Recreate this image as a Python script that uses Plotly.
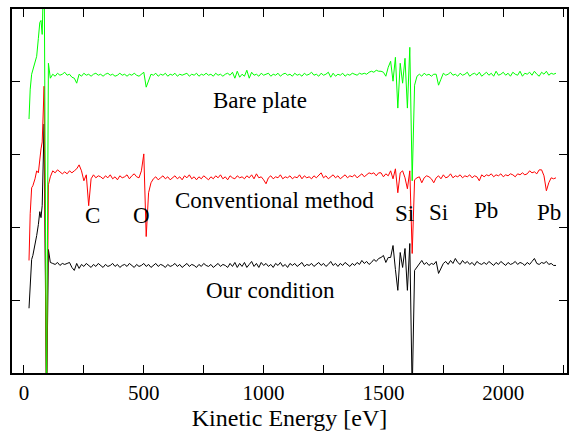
import plotly.graph_objects as go

# Kinetic energy sampling (eV): detailed low-energy points, then 10 eV steps
energy_low = [21, 26, 32, 37, 46, 53, 60, 66, 71, 76, 84, 94, 102, 110]
energy_main = list(range(120, 2230, 10))
energy = energy_low + energy_main

# dN/dE signals (arb. units, offset per sample)
bare_low = [255, 285, 300, 305, 311, 318, 336, 352, 354, 340, 420, -40, 311, 296]
bare_main = (
    [300, 298, 301, 299, 300, 302, 299, 300, 297, 296]
    + [291, 300, 298, 301, 299, 300, 298, 300, 301, 299]
    + [300, 298, 300, 301, 299, 300, 298, 299, 301, 299]
    + [300, 298, 300, 299, 301, 299, 298, 300, 302, 287]
    + [294, 300, 299, 301, 298, 300, 299, 301, 298, 300]
    + [299, 301, 298, 300, 299, 300, 301, 298, 300, 299]
    + [301, 298, 300, 299, 301, 299, 300, 298, 301, 299]
    + [300, 298, 300, 301, 299, 302, 296, 303, 297, 300]
    + [298, 304, 296, 302, 299, 300, 298, 301, 299, 300]
    + [301, 298, 300, 299, 301, 298, 300, 301, 299, 300]
    + [298, 301, 299, 300, 298, 301, 299, 300, 302, 299]
    + [300, 298, 301, 299, 300, 302, 297, 301, 298, 300]
    + [299, 301, 298, 300, 299, 301, 300, 299, 301, 300]
    + [301, 300, 302, 303, 302, 304, 303, 303, 302, 298]
    + [307, 313, 293, 317, 266, 311, 291, 316, 266, 327]
    + [193, 289, 298, 300, 298, 301, 299, 300, 298, 300]
    + [300, 289, 295, 301, 299, 300, 302, 299, 300, 298]
    + [301, 299, 300, 302, 298, 300, 301, 299, 302, 298]
    + [300, 302, 299, 301, 298, 303, 299, 300, 302, 299]
    + [301, 298, 302, 300, 299, 303, 298, 301, 300, 302]
    + [299, 303, 300, 298, 302, 300, 303, 299, 301, 300]
    + [301]
)

conv_low = [113, 160, 186, 188, 195, 203, 201, 219, 225, 232, 288, -40, 189, 197]
conv_main = (
    [203, 201, 204, 202, 200, 202, 200, 203, 201, 203]
    + [205, 209, 203, 193, 199, 168, 195, 199, 196, 198]
    + [197, 195, 198, 196, 199, 195, 197, 194, 198, 196]
    + [197, 199, 195, 198, 200, 197, 196, 203, 220, 137]
    + [181, 191, 195, 197, 194, 196, 198, 195, 197, 194]
    + [196, 198, 195, 197, 194, 198, 196, 199, 195, 197]
    + [194, 197, 195, 198, 196, 194, 197, 195, 198, 196]
    + [199, 195, 197, 194, 198, 196, 195, 198, 196, 197]
    + [195, 198, 196, 199, 195, 200, 196, 197, 194, 190]
    + [196, 198, 195, 197, 196, 199, 195, 197, 196, 198]
    + [195, 197, 196, 199, 195, 198, 196, 197, 195, 198]
    + [196, 199, 201, 196, 198, 195, 197, 199, 196, 198]
    + [195, 197, 199, 196, 198, 197, 199, 196, 198, 200]
    + [197, 199, 201, 200, 201, 198, 201, 201, 197, 200]
    + [198, 203, 195, 205, 181, 201, 203, 196, 185, 203]
    + [120, 194, 196, 197, 191, 196, 198, 197, 195, 191]
    + [196, 198, 195, 199, 196, 197, 200, 196, 198, 197]
    + [199, 196, 198, 197, 199, 196, 198, 197, 193, 199]
    + [197, 199, 198, 200, 197, 199, 198, 200, 197, 199]
    + [198, 200, 199, 197, 200, 199, 201, 199, 200, 203]
    + [201, 202, 200, 204, 204, 198, 183, 191, 196, 195]
    + [196]
)

ours_low = [65, 95, 114, 118, 128, 138, 149, 162, 156, 168, 250, -40, 124, 111]
ours_main = (
    [110, 109, 111, 108, 110, 109, 110, 111, 106, 103]
    + [110, 105, 109, 107, 110, 108, 106, 109, 107, 110]
    + [108, 106, 109, 107, 108, 110, 107, 109, 106, 108]
    + [109, 107, 110, 108, 106, 109, 107, 108, 110, 107]
    + [109, 106, 108, 110, 107, 109, 108, 106, 109, 107]
    + [108, 110, 107, 109, 106, 108, 110, 107, 109, 108]
    + [106, 109, 107, 110, 108, 107, 109, 106, 108, 110]
    + [107, 109, 108, 106, 110, 107, 111, 106, 110, 107]
    + [111, 106, 109, 112, 107, 110, 106, 111, 108, 110]
    + [107, 109, 106, 110, 108, 111, 107, 109, 106, 110]
    + [108, 110, 107, 109, 111, 107, 109, 108, 110, 107]
    + [109, 111, 108, 110, 107, 109, 112, 108, 110, 107]
    + [110, 108, 111, 109, 107, 110, 108, 111, 109, 113]
    + [110, 112, 109, 111, 114, 112, 115, 116, 118, 111]
    + [116, 116, 128, 104, 83, 121, 106, 125, 83, 130]
    + [-20, 103, 106, 110, 113, 109, 111, 108, 110, 109]
    + [112, 100, 105, 110, 112, 109, 113, 110, 115, 111]
    + [109, 113, 110, 112, 109, 111, 108, 112, 110, 109]
    + [111, 109, 112, 110, 108, 111, 109, 112, 110, 108]
    + [111, 109, 110, 112, 109, 111, 110, 108, 111, 109]
    + [112, 115, 110, 109, 111, 110, 112, 109, 110, 108]
    + [108]
)

bare_plate = bare_low + bare_main
conventional = conv_low + conv_main
our_condition = ours_low + ours_main

x_tickvals = [0, 250, 500, 750, 1000, 1250, 1500, 1750, 2000, 2250]
x_ticktext = ["0", "", "500", "", "1000", "", "1500", "", "2000", ""]
y_tickvals = [0, 73.1, 146.2, 219.3, 292.4, 365.5]

FONT = "Liberation Serif, Times New Roman, serif"

fig = go.Figure()
fig.add_trace(go.Scatter(x=energy, y=our_condition, mode="lines",
                         line=dict(color="#000000", width=1), name="Our condition"))
fig.add_trace(go.Scatter(x=energy, y=conventional, mode="lines",
                         line=dict(color="#ff0000", width=1), name="Conventional method"))
fig.add_trace(go.Scatter(x=energy, y=bare_plate, mode="lines",
                         line=dict(color="#00ff00", width=1), name="Bare plate"))

labels = [
    ("Bare plate", 985, 274),
    ("Conventional method", 1044, 173),
    ("Our condition", 1027, 83),
    ("C", 286, 158),
    ("O", 491, 158),
    ("Si", 1587, 160),
    ("Si", 1731, 161),
    ("Pb", 1926, 163),
    ("Pb", 2191, 161),
]
for text, lx, ly in labels:
    fig.add_annotation(x=lx, y=ly, xref="x", yref="y", text=text, showarrow=False,
                       font=dict(family=FONT, size=23, color="#000000"))

fig.update_layout(
    width=578, height=434,
    margin=dict(l=12, r=11, t=7, b=61),
    paper_bgcolor="white", plot_bgcolor="white",
    showlegend=False,
    font=dict(family=FONT, color="#000000"),
)
fig.update_xaxes(
    range=[-50, 2266], tickmode="array", tickvals=x_tickvals, ticktext=x_ticktext,
    ticks="inside", ticklen=8, tickwidth=1.3, tickcolor="#000000",
    showline=True, linecolor="#000000", linewidth=1.5, mirror="ticks",
    showgrid=False, zeroline=False,
    tickfont=dict(family=FONT, size=21, color="#000000"),
    title=dict(text="Kinetic Energy [eV]", font=dict(family=FONT, size=24, color="#000000"), standoff=0),
)
fig.update_yaxes(
    range=[0, 365.5], tickmode="array", tickvals=y_tickvals, showticklabels=False,
    ticks="inside", ticklen=8, tickwidth=1.3, tickcolor="#000000",
    showline=True, linecolor="#000000", linewidth=1.5, mirror="ticks",
    showgrid=False, zeroline=False,
)

fig.write_html(
    "out.html",
    config={"displayModeBar": False},
    post_script="document.body.style.margin='0';document.body.style.overflow='hidden';",
)
